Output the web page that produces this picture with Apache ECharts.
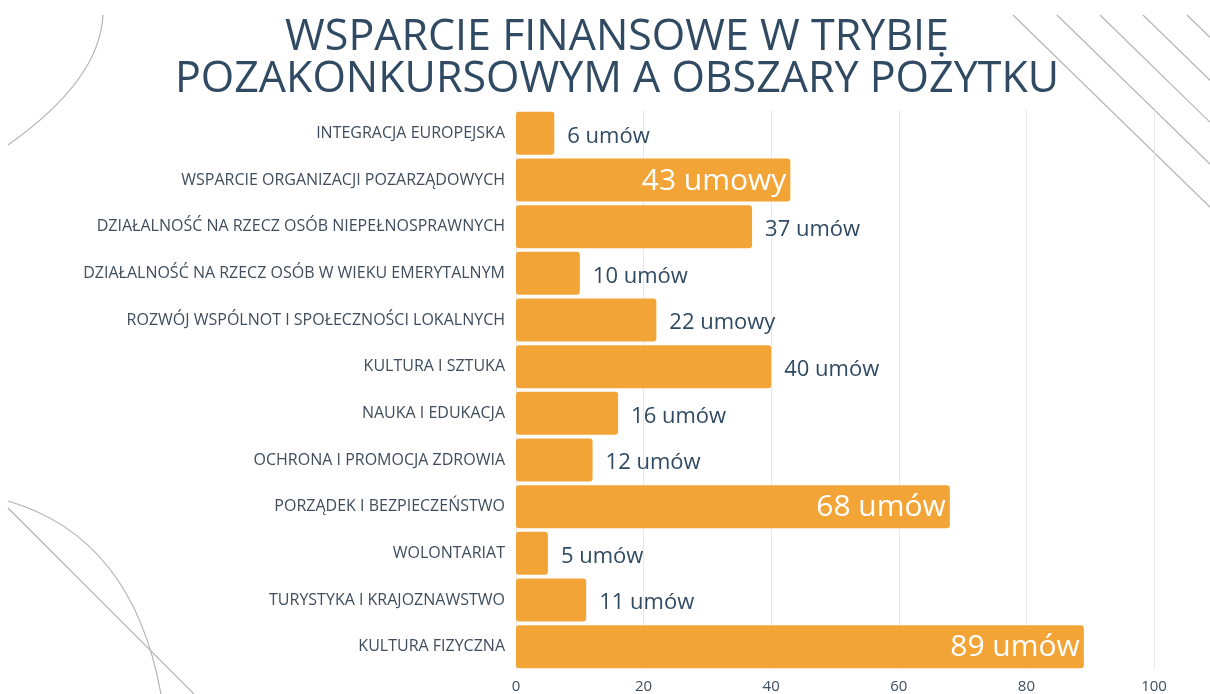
<!DOCTYPE html>
<html>
<head>
<meta charset="utf-8">
<script src="https://cdn.jsdelivr.net/npm/echarts@6/dist/echarts.min.js"></script>
<style>
  html, body { margin: 0; padding: 0; background: #fff; }
  #chart { width: 1210px; height: 694px; }
</style>
</head>
<body>
<div id="chart"></div>
<script>
// dane
const categories = [
  'INTEGRACJA EUROPEJSKA',
  'WSPARCIE ORGANIZACJI POZARZĄDOWYCH',
  'DZIAŁALNOŚĆ NA RZECZ OSÓB NIEPEŁNOSPRAWNYCH',
  'DZIAŁALNOŚĆ NA RZECZ OSÓB W WIEKU EMERYTALNYM',
  'ROZWÓJ WSPÓLNOT I SPOŁECZNOŚCI LOKALNYCH',
  'KULTURA I SZTUKA',
  'NAUKA I EDUKACJA',
  'OCHRONA I PROMOCJA ZDROWIA',
  'PORZĄDEK I BEZPIECZEŃSTWO',
  'WOLONTARIAT',
  'TURYSTYKA I KRAJOZNAWSTWO',
  'KULTURA FIZYCZNA'
]
const values = [6, 43, 37, 10, 22, 40, 16, 12, 68, 5, 11, 89]
const units = ['umów', 'umowy', 'umów', 'umów', 'umowy', 'umów', 'umów', 'umów', 'umów', 'umów', 'umów', 'umów']
const xTicks = [0, 20, 40, 60, 80, 100]

const DARK = '#2f4a62'
const ORANGE = '#f3a437'
const LINE = '#b5b5b5'
const FONT = '"Open Sans", "Noto Sans", sans-serif'

const chart = echarts.init(document.getElementById('chart'))

// dekoracyjne linie w rogach
const deco = []
;[1013, 1057, 1100, 1143, 1187].forEach(function (x0) {
  deco.push({
    type: 'line',
    shape: { x1: x0, y1: 15, x2: x0 + 260, y2: 15 + 260 * 0.975 },
    style: { stroke: LINE, lineWidth: 1.2 },
    silent: true
  })
})
deco.push({
  type: 'bezierCurve',
  shape: { x1: 103, y1: 15, x2: 8, y2: 145, cpx1: 100, cpy1: 80 },
  style: { stroke: LINE, lineWidth: 1.2, fill: null },
  silent: true
})
deco.push({
  type: 'bezierCurve',
  shape: { x1: 8, y1: 501, x2: 162, y2: 700, cpx1: 135, cpy1: 538 },
  style: { stroke: LINE, lineWidth: 1.2, fill: null },
  silent: true
})
deco.push({
  type: 'line',
  shape: { x1: 8, y1: 508, x2: 200, y2: 700 },
  style: { stroke: LINE, lineWidth: 1.2 },
  silent: true
})

const option = {
  backgroundColor: '#fff',
  animation: false,
  title: {
    text: 'WSPARCIE FINANSOWE W TRYBIE\nPOZAKONKURSOWYM A OBSZARY POŻYTKU',
    left: 612,
    top: 12,
    textAlign: 'center',
    textStyle: {
      fontFamily: FONT,
      fontSize: 43,
      fontWeight: 'normal',
      color: DARK,
      lineHeight: 42
    }
  },
  graphic: deco,
  grid: { left: 516, right: 56, top: 110, bottom: 24 },
  xAxis: {
    type: 'value',
    min: 0,
    max: 100,
    interval: 20,
    axisLine: { show: false },
    axisTick: { show: false },
    splitLine: { lineStyle: { color: '#e8e8e8', width: 1 } },
    axisLabel: {
      margin: 9,
      color: '#3f4d5c',
      fontFamily: FONT,
      fontSize: 15,
      formatter: function (v) { return xTicks.indexOf(v) >= 0 ? String(v) : '' }
    }
  },
  yAxis: {
    type: 'category',
    data: categories,
    inverse: true,
    axisLine: { show: false },
    axisTick: { show: false },
    axisLabel: {
      margin: 11,
      color: '#3f4d5c',
      fontFamily: FONT,
      fontSize: 16
    }
  },
  series: [
    {
      type: 'bar',
      barCategoryGap: '8%',
      itemStyle: { color: ORANGE, borderRadius: 3 },
      data: values.map(function (v, i) {
        const inside = v > 42
        return {
          value: v,
          label: inside
            ? { position: 'insideRight', distance: 4, offset: [0, 1], color: '#fff', fontSize: 30 }
            : { position: 'right', distance: 13, offset: [0, 3], color: DARK, fontSize: 22 }
        }
      }),
      label: {
        show: true,
        fontFamily: FONT,
        formatter: function (p) { return p.value + ' ' + units[p.dataIndex] }
      }
    }
  ]
}
chart.setOption(option)
</script>
</body>
</html>
